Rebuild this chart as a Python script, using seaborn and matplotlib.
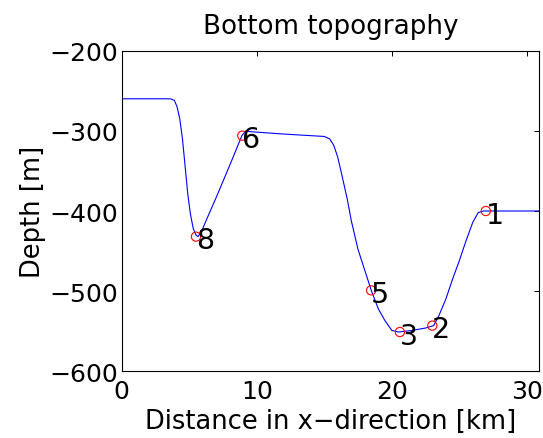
import matplotlib
matplotlib.use("Agg")
import matplotlib.pyplot as plt
import seaborn as sns
import pandas as pd

# Bottom profile (distance km, depth m)
dist_km = [0.0, 3.6, 3.9, 4.1, 4.3, 4.5, 4.7, 4.9, 5.1, 5.3, 5.5, 5.65,
           5.9, 6.3, 7.0, 8.0, 8.9, 9.2, 9.5, 12.0, 15.0, 15.4, 15.7,
           16.0, 16.3, 16.7, 17.0, 17.5, 18.0, 18.5, 19.0, 19.5, 20.0,
           20.5, 21.5, 22.5, 23.1, 23.5, 24.0, 24.5, 25.0, 25.5, 26.0,
           26.4, 26.8, 30.9]
depth_m = [-260, -260, -262, -270, -285, -310, -345, -380, -405, -422, -430, -432,
           -426, -410, -383, -343, -306, -300, -301, -304, -307, -310, -318,
           -333, -355, -385, -412, -448, -474, -500, -522, -537, -549,
           -551, -549, -546, -543, -530, -510, -485, -462, -437, -414,
           -402, -400, -400]

# Marked stations
station_labels = ["1", "2", "3", "5", "6", "8"]
station_x = [26.96, 23.0, 20.6, 18.47, 8.93, 5.5]
station_y = [-400, -543, -551, -499, -306, -432]

x_ticks = [0, 10, 20, 30]
y_ticks = [-600, -500, -400, -300, -200]

sns.set_style("white")
plt.rcParams["font.family"] = ["DejaVu Sans"]
plt.rcParams["axes.unicode_minus"] = True
for k in ["text.color", "axes.labelcolor", "xtick.color", "ytick.color"]:
    plt.rcParams[k] = "black"

fig = plt.figure(figsize=(5.43, 4.39), dpi=100)
ax = fig.add_axes([121.7 / 543, 1 - 372.3 / 439, (539 - 121.7) / 543, (372.3 - 51.7) / 439])

prof = pd.DataFrame({"x": dist_km, "y": depth_m})
st = pd.DataFrame({"x": station_x, "y": station_y, "lab": station_labels})

sns.lineplot(data=prof, x="x", y="y", ax=ax, color="blue", linewidth=0.8,
             estimator=None, sort=False)
sns.scatterplot(data=st, x="x", y="y", ax=ax, marker="o", s=44,
                facecolors="none", edgecolor="red", linewidth=0.8, zorder=3)

for lab, xv, yv in zip(station_labels, station_x, station_y):
    ax.annotate(lab, (xv, yv), xytext=(0.0, -8.4), textcoords="offset points",
                ha="left", va="baseline", fontsize=20.5, color="black")

ax.set_xlim(0, 30.9)
ax.set_ylim(-600, -200)
ax.set_xticks(x_ticks)
ax.set_yticks(y_ticks)
ax.set_yticklabels([f"\u2212{abs(v)}" for v in y_ticks])
ax.set_xticklabels([str(v) for v in x_ticks])

for s in ax.spines.values():
    s.set_visible(True)
    s.set_color("black")
    s.set_linewidth(0.8)

ax.tick_params(direction="in", length=3.6, width=0.7, top=True, right=True,
               labelsize=18.1, colors="black")
ax.tick_params(axis="x", pad=5.5)
ax.tick_params(axis="y", pad=2.3)

ax.set_xlabel("Distance in x\u2212direction [km]", fontsize=18.5, labelpad=3.5)
ax.set_ylabel("Depth [m]", fontsize=18.5, labelpad=2.7)
ax.set_title("Bottom topography", fontsize=18.8, pad=12.5)

fig.savefig("out.png", dpi=100)
